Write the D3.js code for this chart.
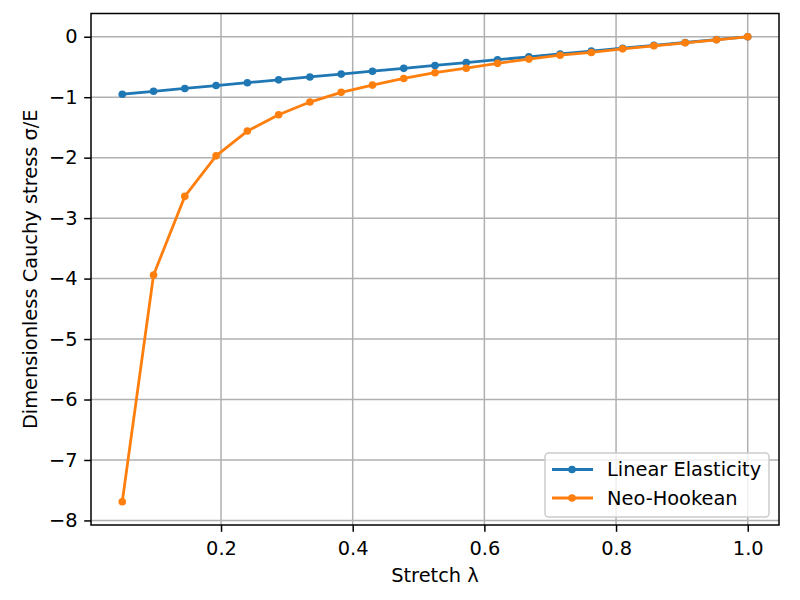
<!DOCTYPE html>
<html>
<head>
<meta charset="utf-8">
<script src="https://cdn.jsdelivr.net/npm/d3@7"></script>
<style>
  body { margin: 0; background: #fff; }
  text { font-family: "DejaVu Sans", sans-serif; }
</style>
</head>
<body>
<div id="chart"></div>
<script>
// stretch values (21 points from 0.05 to 1.0)
const stretch = [0.05, 0.0975, 0.145, 0.1925, 0.24, 0.2875, 0.335, 0.3825, 0.43, 0.4775,
  0.525, 0.5725, 0.62, 0.6675, 0.715, 0.7625, 0.81, 0.8575, 0.905, 0.9525, 1.0]
const linearStress = [-0.95, -0.9025, -0.855, -0.8075, -0.76, -0.7125, -0.665, -0.6175, -0.57, -0.5225,
  -0.475, -0.4275, -0.38, -0.3325, -0.285, -0.2375, -0.19, -0.1425, -0.095, -0.0475, 0]
const neoStress = [-7.69, -3.94, -2.64, -1.97, -1.56, -1.29, -1.08, -0.92, -0.80, -0.69,
  -0.595, -0.52, -0.44, -0.37, -0.305, -0.26, -0.20, -0.15, -0.10, -0.05, 0]
const xTicks = [0.2, 0.4, 0.6, 0.8, 1.0]
const yTicks = [0, -1, -2, -3, -4, -5, -6, -7, -8]
const seriesNames = ["Linear Elasticity", "Neo-Hookean"]
const seriesColors = ["#1f77b4", "#ff7f0e"]

const width = 800, height = 600
const margin = { left: 91, right: 21, top: 13.5, bottom: 75 }
const innerW = width - margin.left - margin.right
const innerH = height - margin.top - margin.bottom
const fontSize = "19.4px"

const svg = d3.select("#chart")
  .append("svg")
  .attr("width", width)
  .attr("height", height)

const g = svg.append("g")
  .attr("transform", "translate(" + margin.left + "," + margin.top + ")")

const x = d3.scaleLinear().domain([0.0025, 1.0475]).range([0, innerW])
const y = d3.scaleLinear().domain([-8.0755, 0.3845]).range([innerH, 0])

const minus = s => s.replace("-", "\u2212")

// grid
g.append("g").selectAll("line").data(xTicks).enter().append("line")
  .attr("x1", d => x(d)).attr("x2", d => x(d))
  .attr("y1", 0).attr("y2", innerH)
  .attr("stroke", "#b0b0b0").attr("stroke-width", 1.5)
g.append("g").selectAll("line").data(yTicks).enter().append("line")
  .attr("y1", d => y(d)).attr("y2", d => y(d))
  .attr("x1", 0).attr("x2", innerW)
  .attr("stroke", "#b0b0b0").attr("stroke-width", 1.5)

// axes
const xAxis = g.append("g")
  .attr("transform", "translate(0," + innerH + ")")
  .call(d3.axisBottom(x).tickValues(xTicks).tickFormat(d3.format(".1f")).tickSize(6.8).tickPadding(9))
const yAxis = g.append("g")
  .call(d3.axisLeft(y).tickValues(yTicks).tickFormat(d => minus(String(d))).tickSize(6.8).tickPadding(6.5))

for (const ax of [xAxis, yAxis]) {
  ax.select(".domain").remove()
  ax.selectAll(".tick line").attr("stroke", "#000").attr("stroke-width", 1.5)
  ax.selectAll(".tick text").attr("fill", "#000").style("font-size", fontSize)
}
xAxis.selectAll(".tick text").attr("dy", "0.71em")

// series
const seriesData = [linearStress, neoStress]
const line = d3.line().x((d, i) => x(stretch[i])).y(d => y(d))

seriesData.forEach((vals, k) => {
  g.append("path")
    .datum(vals)
    .attr("fill", "none")
    .attr("stroke", seriesColors[k])
    .attr("stroke-width", 2.8)
    .attr("stroke-linejoin", "round")
    .attr("stroke-linecap", "square")
    .attr("d", line)
  g.append("g").selectAll("circle").data(vals).enter().append("circle")
    .attr("cx", (d, i) => x(stretch[i]))
    .attr("cy", d => y(d))
    .attr("r", 3.8)
    .attr("fill", seriesColors[k])
})

// frame
g.append("rect")
  .attr("width", innerW).attr("height", innerH)
  .attr("fill", "none").attr("stroke", "#000").attr("stroke-width", 1.5)

// legend
const legend = g.append("g").attr("transform", "translate(" + (545 - margin.left) + "," + (453 - margin.top) + ")")
legend.append("rect")
  .attr("width", 224).attr("height", 64).attr("rx", 3.5)
  .attr("fill", "#fff").attr("fill-opacity", 0.8)
  .attr("stroke", "#cccccc").attr("stroke-width", 1.5)
seriesNames.forEach((name, k) => {
  const row = legend.append("g").attr("transform", "translate(0," + (16.5 + k * 28.5) + ")")
  row.append("line").attr("x1", 7).attr("x2", 48)
    .attr("stroke", seriesColors[k]).attr("stroke-width", 2.8)
  row.append("circle").attr("cx", 27).attr("r", 3.8).attr("fill", seriesColors[k])
  row.append("text").attr("x", 62).attr("dy", "0.36em")
    .style("font-size", fontSize).attr("fill", "#000").text(name)
})

// labels
svg.append("text")
  .attr("x", margin.left + innerW / 2).attr("y", 582)
  .attr("text-anchor", "middle").style("font-size", fontSize)
  .text("Stretch \u03bb")
svg.append("text")
  .attr("transform", "translate(37," + (margin.top + innerH / 2) + ") rotate(-90)")
  .attr("text-anchor", "middle").style("font-size", fontSize)
  .text("Dimensionless Cauchy stress \u03c3/E")
</script>
</body>
</html>
